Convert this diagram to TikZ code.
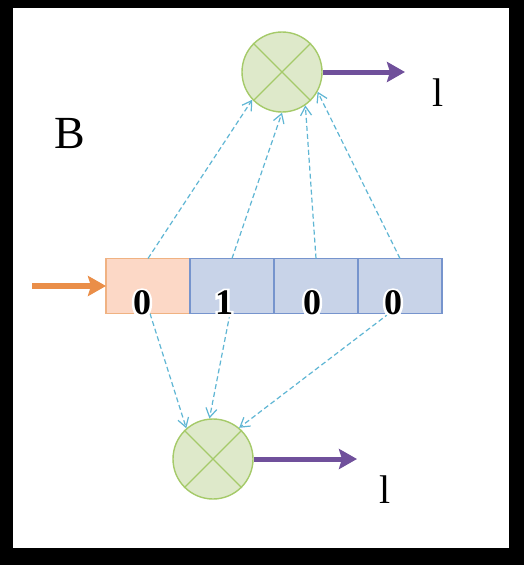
\documentclass[tikz,border=0pt]{standalone}
\usepackage{fontspec}
\setmainfont{Liberation Serif}
\newfontfamily\halofont[FakeBold=14]{Liberation Serif Bold}
\usepackage{tikz}
\usetikzlibrary{positioning,arrows.meta}
\definecolor{cfirst}{RGB}{252,216,198}
\definecolor{cfirstln}{RGB}{240,178,130}
\definecolor{cbit}{RGB}{200,211,232}
\definecolor{cbitln}{RGB}{118,148,205}
\definecolor{cgate}{RGB}{222,233,202}
\definecolor{cgateln}{RGB}{165,202,105}
\definecolor{cout}{RGB}{112,80,155}
\definecolor{cin}{RGB}{234,142,72}
\definecolor{clink}{RGB}{95,182,212}
% a bold digit with a white rim round it
\newcommand{\rimmed}[1]{\rlap{\halofont\color{white}#1}#1}

\begin{document}
\begin{tikzpicture}[
  x=1pt,y=-1pt,
  % one style per kind of mark
  bit/.style={draw=cbitln,fill=cbit,line width=1.2pt,minimum width=84pt,minimum height=55pt,inner sep=0pt,outer sep=0pt},
  first/.style={bit,draw=cfirstln,fill=cfirst},
  gate/.style={circle,draw=cgateln,fill=cgate,line width=1.4pt,minimum size=80pt,inner sep=0pt},
  cross/.style={cgateln,line width=1.4pt},
  digit/.style={font=\bfseries\fontsize{36}{36}\selectfont,inner sep=0pt},
  lab/.style={font=\fontsize{40}{40}\selectfont,inner sep=0pt},
  link/.style={-{Straight Barb[length=9pt,width=11pt]},clink,line width=1.2pt,dash pattern=on 5pt off 3pt},
  outarr/.style={-{Stealth[length=18pt,width=20pt,inset=3pt]},cout,line width=5pt},
  inarr/.style={-{Stealth[length=18pt,width=20pt,inset=3pt]},cin,line width=5.5pt},
]
\useasboundingbox (0,0) rectangle (524,565);
\fill[black] (0,0) rectangle (524,565);
\fill[white] (13,8) rectangle (509,548);

% =========== the register ===================================================
\node[first] (c0) at (148,286) {};
\node[bit,right=0pt of c0] (c1) {};
\node[bit,right=0pt of c1] (c2) {};
\node[bit,right=0pt of c2] (c3) {};
\coordinate (in) at (32,286);
\draw[inarr] (in) -- (c0);

% =========== the two gates ==================================================
\node[gate] (top) at (282,72) {};
\node[gate] (bot) at (213,459) {};
\foreach \g in {top,bot}{
  \draw[cross] (\g.45) -- (\g.225);
  \draw[cross] (\g.135) -- (\g.315);
}
\coordinate (out1) at (405,72);
\coordinate (out2) at (357,459);
\draw[outarr] (top.east) -- (out1);
\draw[outarr] (bot.east) -- (out2);
\node[lab] (t1) at (438,93) {l};
\node[lab] (t2) at (385,490) {l};
\node[lab,font=\fontsize{46}{46}\selectfont] (B) at (70,134) {B};

% =========== taps up and down ===============================================
\draw[link] (c0.north) -- (top.223);
\draw[link] (c1.north) -- (top.270);
\draw[link] (c2.north) -- (top.305);
\draw[link] (c3.north) -- (top.331);
\draw[link] ([xshift=2pt]c0.south) -- (bot.131);
\draw[link] ([xshift=-2pt]c1.south) -- (bot.95);
\draw[link] ([xshift=-11pt]c3.south) -- (bot.50);

% =========== bit values =====================================================
\node[digit] (d0) at (142,303) {\rimmed{0}};
\node[digit] (d1) at (224,303) {\rimmed{1}};
\node[digit] (d2) at (312,303) {\rimmed{0}};
\node[digit] (d3) at (393,303) {\rimmed{0}};

\end{tikzpicture}
\end{document}
